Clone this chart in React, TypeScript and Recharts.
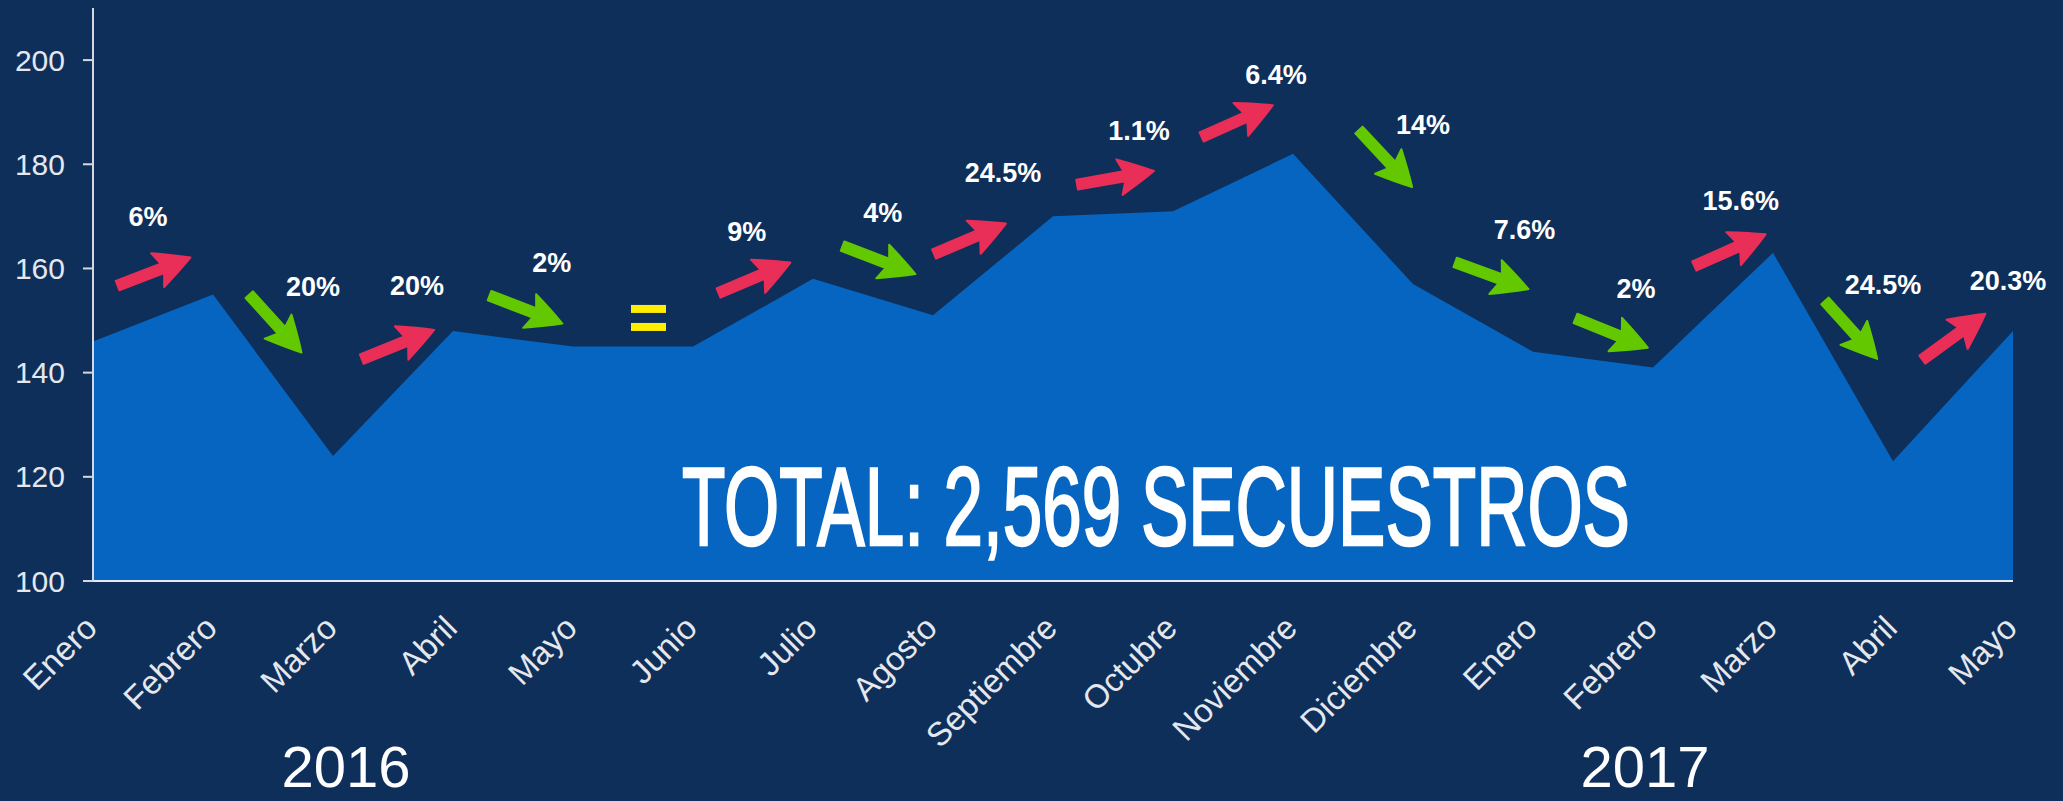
import React from 'react';
import { AreaChart, Area, XAxis, YAxis, ReferenceDot } from 'recharts';

const months = ['Enero', 'Febrero', 'Marzo', 'Abril', 'Mayo', 'Junio', 'Julio', 'Agosto', 'Septiembre', 'Octubre', 'Noviembre', 'Diciembre', 'Enero', 'Febrero', 'Marzo', 'Abril', 'Mayo'];
const secuestros = [146, 155, 124, 148, 145, 145, 158, 151, 170, 171, 182, 157, 144, 141, 163, 123, 148];
const yTicks = [100, 120, 140, 160, 180, 200];
const years = ['2016', '2017'];
const total = 'TOTAL: 2,569 SECUESTROS';

// monthly change labels and their direction (up = red arrow, down = green arrow)
const changeLabels = ['6%', '20%', '20%', '2%', '9%', '4%', '24.5%', '1.1%', '6.4%', '14%', '7.6%', '2%', '15.6%', '24.5%', '20.3%'];
const changeUp = [true, false, true, false, true, false, true, true, true, false, false, false, true, false, true];

// placement of the annotations, in axis units (x = month index, y = value)
const arrowPos = [
  [0.508, 159.4, -21], [1.52, 149.4, 48], [2.541, 145.4, -22], [3.608, 152.1, 21],
  [5.512, 158.2, -23], [6.55, 161.6, 21], [7.308, 165.7, -23], [8.521, 177.4, -10],
  [9.535, 188.3, -24], [10.771, 181.1, 47], [11.657, 158.6, 20], [12.655, 147.6, 22],
  [13.641, 163.5, -24], [14.651, 148.2, 48], [15.507, 146.9, -36],
];
const labelPos = [
  [0.459, 170.0], [1.834, 156.5], [2.7, 156.8], [3.823, 161.1], [5.448, 167.2],
  [6.581, 170.7], [7.583, 178.5], [8.717, 186.5], [9.858, 197.3], [11.083, 187.7],
  [11.93, 167.6], [12.859, 156.2], [13.731, 173.1], [14.917, 157.0], [15.959, 157.7],
];
const equalPos = [4.625, 150.5];
const yearPos = [[2.108, 60.4], [12.933, 60.4]];
const totalPos = [8.858, 106.9];

const data = months.map((m, i) => ({ idx: i, month: m, value: secuestros[i] }));

const FONT = '"Liberation Sans", Arial, Helvetica, sans-serif';

const Arrow = ({ cx, cy, angle, up }: any) => {
  const L = 78;
  const h = L / 2;
  const hb = h - 30;
  const d = `M ${-h} -5 L ${hb} -5 L ${hb - 5} -18 Q ${h - 14} -8 ${h} 0 Q ${h - 14} 8 ${hb - 5} 18 L ${hb} 5 L ${-h} 5 Z`;
  return (
    <path
      d={d}
      fill={up ? '#e92e57' : '#64c800'}
      stroke={up ? '#e92e57' : '#64c800'}
      strokeWidth={2}
      strokeLinejoin="round"
      transform={`translate(${cx} ${cy}) rotate(${angle})`}
    />
  );
};

const MonthTick = ({ x, y, payload }: any) => {
  const tx = x + 6;
  const ty = y + 49;
  return (
    <text x={tx} y={ty} transform={`rotate(-45 ${tx} ${ty})`} textAnchor="end" fill="#e4e8ee" fontSize={33} fontFamily={FONT}>
      {months[payload.value]}
    </text>
  );
};

export default function App() {
  return (
    <div style={{ position: 'absolute', left: 0, top: 0, width: 2063, height: 801, background: '#0f2f5b' }}>
      <AreaChart width={2063} height={801} data={data} margin={{ top: 8, right: 50, left: 0, bottom: 0 }}>
        <XAxis
          type="number"
          dataKey="idx"
          domain={[0, 16]}
          ticks={months.map((_, i) => i)}
          interval={0}
          height={220}
          tickLine={false}
          tickSize={0}
          tickMargin={0}
          tick={<MonthTick />}
          stroke="#e6eaf0"
          strokeWidth={2}
        />
        <YAxis
          domain={[100, 210]}
          ticks={yTicks}
          allowDataOverflow
          width={93}
          tickSize={10}
          tickMargin={18}
          stroke="#d4d9e0"
          strokeWidth={2}
          tick={{ fill: '#e4e8ee', fontSize: 30, fontFamily: FONT }}
        />
        <Area type="linear" dataKey="value" fill="#0565c0" fillOpacity={1} stroke="none" isAnimationActive={false} />
        <ReferenceDot
          x={totalPos[0]}
          y={totalPos[1]}
          ifOverflow="visible"
          shape={(p: any) => (
            <text
              x={p.cx}
              y={p.cy}
              textAnchor="middle"
              fill="#ffffff"
              stroke="#ffffff"
              strokeWidth={2.5}
              fontSize={112}
              fontWeight={400}
              fontFamily={'"Liberation Sans Narrow", "Liberation Sans", Arial, sans-serif'}
              textLength={948}
              lengthAdjust="spacingAndGlyphs"
            >
              {total}
            </text>
          )}
        />
        {arrowPos.map((a, i) => (
          <ReferenceDot
            key={`a${i}`}
            x={a[0]}
            y={a[1]}
            ifOverflow="visible"
            shape={(p: any) => <Arrow cx={p.cx} cy={p.cy} angle={a[2]} up={changeUp[i]} />}
          />
        ))}
        {labelPos.map((l, i) => (
          <ReferenceDot
            key={`l${i}`}
            x={l[0]}
            y={l[1]}
            ifOverflow="visible"
            shape={(p: any) => (
              <text x={p.cx} y={p.cy} dy="0.36em" textAnchor="middle" fill="#ffffff" fontSize={27} fontWeight={700} fontFamily={FONT}>
                {changeLabels[i]}
              </text>
            )}
          />
        ))}
        <ReferenceDot
          x={equalPos[0]}
          y={equalPos[1]}
          ifOverflow="visible"
          shape={(p: any) => (
            <g fill="#ffee00">
              <rect x={p.cx - 17} y={p.cy - 13} width={35} height={8} />
              <rect x={p.cx - 17} y={p.cy + 5} width={35} height={8} />
            </g>
          )}
        />
        {yearPos.map((yp, i) => (
          <ReferenceDot
            key={`y${i}`}
            x={yp[0]}
            y={yp[1]}
            ifOverflow="visible"
            shape={(p: any) => (
              <text x={p.cx} y={p.cy} textAnchor="middle" fill="#ffffff" fontSize={58} fontFamily={FONT}>
                {years[i]}
              </text>
            )}
          />
        ))}
      </AreaChart>
    </div>
  );
}
